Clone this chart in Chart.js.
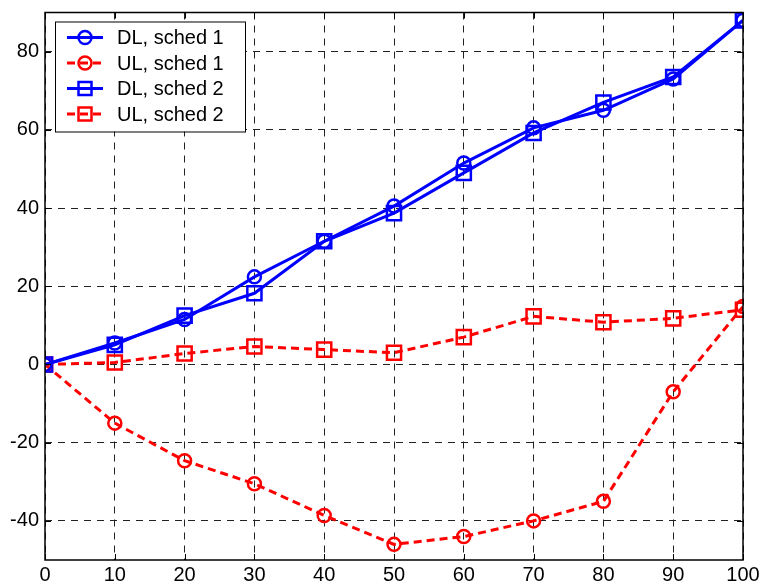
<!DOCTYPE html>
<html>
<head>
<meta charset="utf-8">
<script src="https://cdn.jsdelivr.net/npm/chart.js@4/dist/chart.umd.min.js"></script>
<style>
  html, body { margin: 0; padding: 0; background: #fff; }
  #wrap { width: 761px; height: 587px; }
</style>
</head>
<body>
<div id="wrap"><canvas id="c" width="761" height="587"></canvas></div>
<script>
// ── DATA ──
const xValues = [0, 10, 20, 30, 40, 50, 60, 70, 80, 90, 100];
const dlSched1 = [0, 5.5, 11.5, 22.4, 31.5, 40.5, 51.5, 60.5, 65, 73, 88];
const ulSched1 = [0, -15, -24.6, -30.5, -38.6, -46, -44, -40, -35, -7, 14.8];
const dlSched2 = [0, 5, 12.5, 18.2, 31.5, 38.7, 49, 59.2, 67, 73.5, 88];
const ulSched2 = [0, 0.5, 2.8, 4.6, 3.8, 3, 7, 12.3, 10.8, 11.8, 14];
const xTicks = [0, 10, 20, 30, 40, 50, 60, 70, 80, 90, 100];
const yTicks = [-40, -20, 0, 20, 40, 60, 80];

const FONT = 'Arial, "Liberation Sans", sans-serif';

const pts = arr => arr.map((v, i) => ({ x: xValues[i], y: v }));

function series(label, data, color, dashed, shape) {
    return {
        label: label,
        data: pts(data),
        borderColor: color,
        backgroundColor: 'transparent',
        borderWidth: 3,
        borderDash: dashed ? [8, 5] : [],
        pointStyle: shape,
        pointRadius: shape === 'rect' ? 10 : 6.5,
        pointBorderWidth: 2.5,
        pointBorderColor: color,
        pointBackgroundColor: 'transparent',
        tension: 0
    };
}

// ── FRAME, INNER TICKS, LEGEND ──
const framePlugin = {
    id: 'frame',
    afterDatasetsDraw(chart) {
        const { ctx, chartArea: a, scales: { x, y } } = chart;
        ctx.save();
        ctx.strokeStyle = '#000';
        ctx.lineWidth = 1;
        ctx.setLineDash([]);
        const L = 6;
        xTicks.forEach(v => {
            const px = Math.round(x.getPixelForValue(v)) + 0.5;
            ctx.beginPath();
            ctx.moveTo(px, a.bottom); ctx.lineTo(px, a.bottom - L);
            ctx.moveTo(px, a.top); ctx.lineTo(px, a.top + L);
            ctx.stroke();
        });
        yTicks.forEach(v => {
            const py = Math.round(y.getPixelForValue(v)) + 0.5;
            ctx.beginPath();
            ctx.moveTo(a.left, py); ctx.lineTo(a.left + L, py);
            ctx.moveTo(a.right, py); ctx.lineTo(a.right - L, py);
            ctx.stroke();
        });
        ctx.lineWidth = 1.5;
        ctx.strokeRect(a.left, a.top, a.right - a.left, a.bottom - a.top);

        // legend box
        const bx = a.left + 10, by = a.top + 9, bw = 190, bh = 110;
        ctx.fillStyle = '#fff';
        ctx.fillRect(bx, by, bw, bh);
        ctx.lineWidth = 1;
        ctx.strokeRect(bx + 0.5, by + 0.5, bw, bh);
        ctx.font = '20px ' + FONT;
        ctx.textBaseline = 'middle';
        chart.data.datasets.forEach((ds, i) => {
            const cy = by + 16 + i * 25.5;
            ctx.strokeStyle = ds.borderColor;
            ctx.lineWidth = 3;
            ctx.setLineDash(ds.borderDash);
            ctx.beginPath();
            ctx.moveTo(bx + 12, cy); ctx.lineTo(bx + 48, cy);
            ctx.stroke();
            ctx.setLineDash([]);
            ctx.lineWidth = 2.5;
            ctx.beginPath();
            if (ds.pointStyle === 'rect') {
                ctx.rect(bx + 30 - 6.5, cy - 6.5, 13, 13);
            } else {
                ctx.arc(bx + 30, cy, 6.5, 0, Math.PI * 2);
            }
            ctx.stroke();
            ctx.fillStyle = '#000';
            ctx.fillText(ds.label, bx + 62, cy + 1);
        });
        ctx.restore();
    }
};

new Chart(document.getElementById('c'), {
    type: 'line',
    data: {
        datasets: [
            series('DL, sched 1', dlSched1, '#0000ff', false, 'circle'),
            series('UL, sched 1', ulSched1, '#ff0000', true, 'circle'),
            series('DL, sched 2', dlSched2, '#0000ff', false, 'rect'),
            series('UL, sched 2', ulSched2, '#ff0000', true, 'rect')
        ]
    },
    options: {
        responsive: false,
        animation: false,
        layout: { padding: { left: 0, right: 18, top: 12, bottom: 0 } },
        plugins: { legend: { display: false }, tooltip: { enabled: false } },
        scales: {
            x: {
                type: 'linear',
                min: 0, max: 100,
                afterBuildTicks: s => { s.ticks = xTicks.map(v => ({ value: v })); },
                afterFit: s => { s.height = 27; s.paddingLeft = 0; s.paddingRight = 0; },
                grid: { color: '#222', lineWidth: 1, drawTicks: false },
                border: { display: false, dash: [7, 6] },
                ticks: { color: '#000', font: { size: 20, family: FONT }, padding: 3, maxRotation: 0 }
            },
            y: {
                type: 'linear',
                min: -50, max: 90,
                afterBuildTicks: s => { s.ticks = yTicks.map(v => ({ value: v })); },
                afterFit: s => { s.width = 45; s.paddingTop = 0; s.paddingBottom = 0; },
                grid: { color: '#222', lineWidth: 1, drawTicks: false },
                border: { display: false, dash: [7, 6] },
                ticks: { color: '#000', font: { size: 20, family: FONT }, padding: 6 }
            }
        }
    },
    plugins: [framePlugin]
});
</script>
</body>
</html>
